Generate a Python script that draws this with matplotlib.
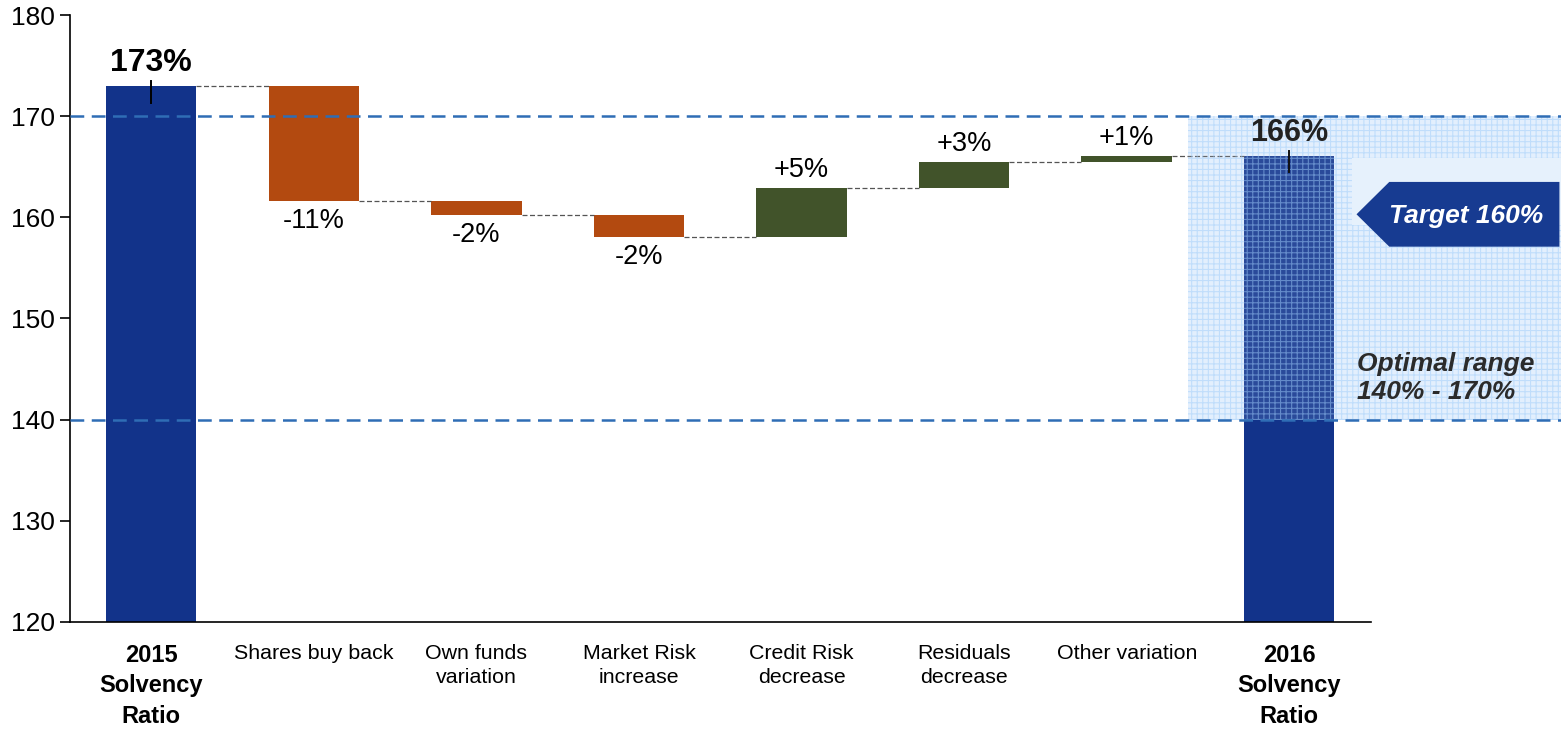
import numpy as np
import matplotlib.pyplot as plt
from matplotlib.patches import Rectangle, Polygon
from matplotlib.transforms import blended_transform_factory

plt.rcParams["font.family"] = ["Liberation Sans", "DejaVu Sans"]
plt.rcParams["hatch.linewidth"] = 0.8

categories = ["2015\nSolvency\nRatio", "Shares buy back", "Own funds\nvariation",
              "Market Risk\nincrease", "Credit Risk\ndecrease", "Residuals\ndecrease",
              "Other variation", "2016\nSolvency\nRatio"]
start_value = 173.0
deltas = [-11.35, -1.45, -2.1, 4.8, 2.6, 0.6]
end_value = 166.1
delta_labels = ["-11%", "-2%", "-2%", "+5%", "+3%", "+1%"]
total_labels = ["173%", "166%"]
target_range = [140, 170]

BLUE = "#12338a"
ORANGE = "#b34a10"
GREEN = "#41532a"
DASH_BLUE = "#2f6db5"

fig = plt.figure(figsize=(15.61, 7.32), dpi=100)
ax = fig.add_axes([0.0448, 0.1503, 0.8332, 0.8292])

width = 0.556
x = np.arange(len(categories))

# totals
ax.bar(0, start_value - 120, width, bottom=120, color=BLUE, zorder=2)
ax.bar(7, end_value - 120, width, bottom=120, color=BLUE, zorder=2)

# steps
level = start_value
levels = [level]
for i, d in enumerate(deltas):
    c = ORANGE if d < 0 else GREEN
    ax.bar(i + 1, abs(d), width, bottom=min(level, level + d), color=c, zorder=2)
    top, bot = max(level, level + d), min(level, level + d)
    if d < 0:
        ax.text(i + 1, bot - 0.7, delta_labels[i], ha="center", va="top", fontsize=19.5)
    else:
        ax.text(i + 1, top + 0.5, delta_labels[i], ha="center", va="bottom", fontsize=19.5)
    level = level + d
    levels.append(level)

# connectors
for i, lv in enumerate(levels):
    ax.plot([i + width / 2, i + 1 - width / 2], [lv, lv], ls=(0, (4, 2)),
            color="#555555", lw=0.9, zorder=3)

# optimal range band (fill behind bars, grid pattern on top)
tr = blended_transform_factory(fig.transFigure, ax.transData)
band_bg = Rectangle((0.761, target_range[0]), 0.239, target_range[1] - target_range[0],
                    transform=tr, facecolor="#eaf3fd", lw=0, clip_on=False, zorder=1)
ax.add_patch(band_bg)
band_grid = Rectangle((0.761, target_range[0]), 0.239, target_range[1] - target_range[0],
                      transform=tr, facecolor=(0.75, 0.85, 1.0, 0.14),
                      edgecolor=(0.62, 0.80, 0.98, 0.5), hatch="+++", lw=0,
                      clip_on=False, zorder=3)
ax.add_patch(band_grid)

for yv in target_range:
    ax.plot([0.0448, 1.0], [yv, yv], transform=tr, ls=(0, (5.5, 3)), color=DASH_BLUE,
            lw=1.8, clip_on=False, zorder=4)

# total labels and small markers
ax.text(0, start_value + 0.8, total_labels[0], ha="center", va="bottom",
        fontsize=23, fontweight="bold")
ax.text(7, end_value + 0.8, total_labels[1], ha="center", va="bottom",
        fontsize=22, fontweight="bold", color="#222222", zorder=6)
ax.plot([0, 0], [start_value + 0.5, start_value - 1.7], color="black", lw=1.4, zorder=4)
ax.plot([7, 7], [end_value + 0.5, end_value - 1.6], color="#111111", lw=1.4, zorder=6)

# target arrow box
bg = Rectangle((0.866, 159.2), 0.134, 6.7, transform=tr, facecolor="#e6f1fc",
               lw=0, clip_on=False, zorder=6)
ax.add_patch(bg)
arrow = Polygon([(0.869, 160.3), (0.890, 163.5), (0.999, 163.5), (0.999, 157.1),
                 (0.890, 157.1)], closed=True, transform=tr, facecolor="#173b91",
                edgecolor="none", clip_on=False, zorder=7)
ax.add_patch(arrow)
fig.text(0.939, 0.705, "Target 160%", color="white", fontsize=19, fontweight="bold",
         style="italic", ha="center", va="center", zorder=8)

fig.text(0.869, 0.484, "Optimal range\n140% - 170%", color="#2b2b2b", fontsize=19,
         fontweight="bold", style="italic", ha="left", va="center", linespacing=1.2,
         zorder=8)

ax.set_xlim(-0.5, 7.5)
ax.set_ylim(120, 180)
ax.set_yticks(range(120, 181, 10))
ax.tick_params(axis="y", labelsize=19, length=7, width=1.2, direction="out", pad=4)
ax.set_xticks(x)
ax.set_xticklabels(categories)
ax.tick_params(axis="x", length=0, pad=16)
for i, lbl in enumerate(ax.get_xticklabels()):
    if i in (0, 7):
        lbl.set_fontsize(17)
        lbl.set_fontweight("bold")
        lbl.set_linespacing(1.4)
    else:
        lbl.set_fontsize(15.4)
        lbl.set_linespacing(1.3)

for s in ["top", "right"]:
    ax.spines[s].set_visible(False)
ax.spines["left"].set_linewidth(1.2)
ax.spines["bottom"].set_linewidth(1.2)

plt.savefig("out.png", dpi=100)
